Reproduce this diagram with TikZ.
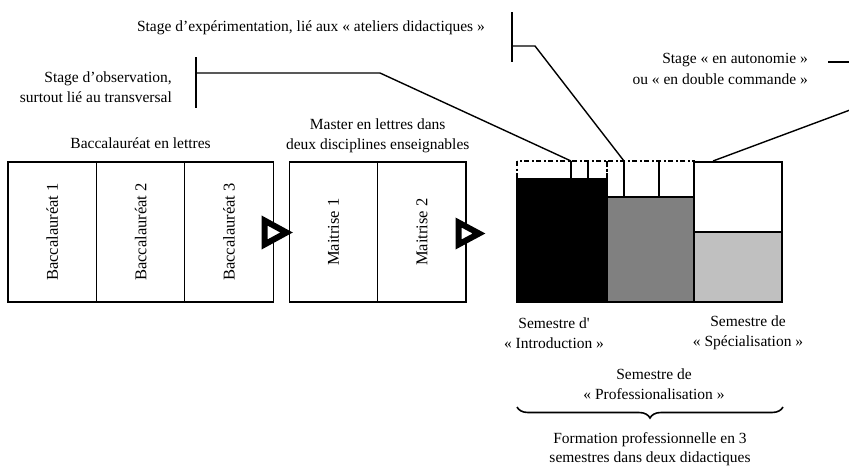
\documentclass[tikz,border=0pt]{standalone}
\usepackage{fontspec}
\setmainfont{Liberation Serif}
\usepackage{xcolor}
\usepackage{tikz}
\usetikzlibrary{positioning,calc,decorations.pathreplacing}
\definecolor{semgray}{HTML}{808080}
\definecolor{semlight}{HTML}{C0C0C0}

\begin{document}
\begin{tikzpicture}[x=1pt,y=-1pt,
  col/.style={draw,line width=1.3pt,rotate=90,minimum width=140pt,minimum height=88.4pt,inner sep=0pt,font=\fontsize{16.5}{20}\selectfont},
  lbl/.style={align=center,inner sep=0pt,font=\fontsize{15.5}{20.5}\selectfont},
  bar/.style={line width=1.2pt},
  lien/.style={line width=1.4pt},
  tri/.style={line width=6pt,fill=white,line join=miter},
  sem/.style={line width=1.3pt},
  dashdot/.style={line width=2.2pt,dash pattern=on 5pt off 2.5pt on 2pt off 2.5pt},
  brace/.style={decorate,decoration={brace,mirror,amplitude=11pt},line width=1.6pt}]

  \useasboundingbox (0,0) rectangle (849,466);

  % baccalaureat et maitrise
  \node[col] (b1) at (52.2,232) {Baccalauréat 1};
  \node[col] (b2) at (140.6,232) {Baccalauréat 2};
  \node[col] (b3) at (229,232) {Baccalauréat 3};
  \node[col] (m1) at (333.5,232) {Maitrise 1};
  \node[col] (m2) at (421.9,232) {Maitrise 2};
  \node[lbl,above=13pt of b2.east] (bac) {Baccalauréat en lettres};
  \node[lbl,above=8pt of $(m1.east)!0.5!(m2.east)$] (mas) {Master en lettres dans\\deux disciplines enseignables};

  \coordinate (f1) at (276,232.5);
  \coordinate (f2) at (469,233.5);
  \draw[tri] (f1) ++(-11.5,-12) -- ++(0,24) -- ++(22,-12) -- cycle;
  \draw[tri] (f2) ++(-10.5,-11) -- ++(0,22) -- ++(20.5,-11) -- cycle;

  % trois semestres
  \fill (517,179) rectangle (607,302);
  \fill[semgray] (607,197) rectangle (694,302);
  \fill[semlight] (694,232) rectangle (782,302);
  \draw[sem] (517,179) rectangle (607,302);
  \draw[sem] (607,197) rectangle (694,302);
  \draw[sem] (694,162) rectangle (782,302) (694,232) -- (782,232);
  \draw[sem] (571,161) -- (571,179) (588,161) -- (588,179);
  \draw[sem] (624,161) -- (624,197) (659,161) -- (659,197);
  \draw[dashdot] (517,161) rectangle (607,179);
  \draw[dashdot] (607,161) rectangle (694,197);

  \node[lbl] (intro) at (554,333) {Semestre d\textquotesingle\\« Introduction »};
  \node[lbl] (spec) at (748,333) {Semestre de\\« Spécialisation »};
  \node[lbl] (prof) at (654,384) {Semestre de\\« Professionalisation »};
  \coordinate (ba) at (517,407);
  \coordinate (bb) at (783,407);
  \draw[brace] (ba) -- (bb);
  \node[lbl,font=\fontsize{15.5}{19}\selectfont] (form) at (650,449) {Formation professionnelle en 3\\semestres dans deux didactiques};

  % stages
  \node[lbl,anchor=east,align=right] (obs) at (172,87) {Stage d’observation,\\surtout lié au transversal};
  \draw[bar] (196,57) -- (196,108);
  \coordinate (o1) at (196,73);
  \coordinate (o2) at (380,73);
  \coordinate (o3) at (571,161);
  \draw[lien] (o1) -- (o2) -- (o3);

  \node[lbl,anchor=east] (exp) at (485,28) {Stage d’expérimentation, lié aux « ateliers didactiques »};
  \draw[bar] (512,12) -- (512,62);
  \coordinate (e1) at (512,46);
  \coordinate (e2) at (535,46);
  \coordinate (e3) at (624,161);
  \draw[lien] (e1) -- (e2) -- (e3);

  \node[lbl,anchor=east,align=right] (aut) at (808,69) {Stage « en autonomie »\\ou « en double commande »};
  \coordinate (a1) at (828,62);
  \coordinate (a2) at (849,62);
  \coordinate (a3) at (850,110);
  \coordinate (a4) at (713,161);
  \draw[lien] (a1) -- (a2);
  \draw[lien] (a3) -- (a4);

\end{tikzpicture}
\end{document}
